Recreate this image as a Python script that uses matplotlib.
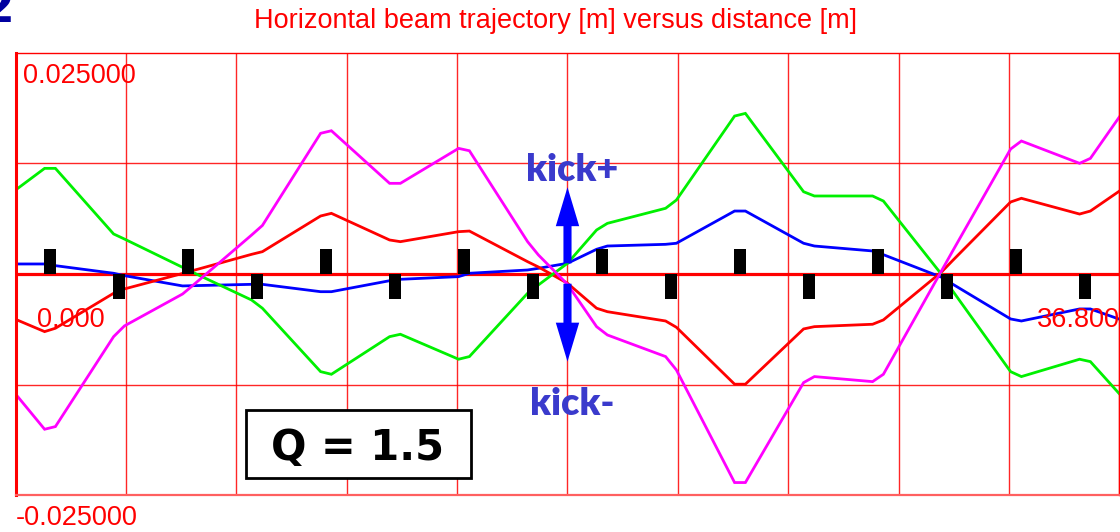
import matplotlib
matplotlib.use("Agg")
import matplotlib.pyplot as plt
from matplotlib.patches import Rectangle
import numpy as np

# ---- lattice: 16 thin quadrupoles, alternating focusing (+1) / defocusing (-1)
QUAD_CENTERS = [1.15, 3.45, 5.75, 8.05, 10.35, 12.65, 14.95, 17.25,
                19.55, 21.85, 24.15, 26.45, 28.75, 31.05, 33.35, 35.65]
QUAD_POLARITY = [1, -1, 1, -1, 1, -1, 1, -1, 1, -1, 1, -1, 1, -1, 1, -1]
QUAD_LENGTH = 0.37
KICK_S = 18.4
RING_LENGTH = 36.8

# ---- trajectory nodes [m]: start, quad entrance/exit edges, kicker, end
S_NODES = [0.0, 0.97, 1.33, 3.27, 3.63, 5.57, 5.93, 7.87, 8.23, 10.17, 10.53,
           12.47, 12.83, 14.77, 15.13, 17.07, 17.43, 18.4, 19.37, 19.73,
           21.67, 22.03, 23.97, 24.33, 26.27, 26.63, 28.57, 28.93, 30.87,
           31.23, 33.17, 33.53, 35.47, 35.83, 36.8]

# ---- horizontal positions [mm] for four turns
X_TURN1_BLUE = [1.13, 1.13, 0.94, 0.08, -0.19, -1.35, -1.32, -1.17, -1.17,
                -2.0, -2.0, -0.76, -0.60, -0.30, 0.08, 0.45, 0.64, 1.21,
                2.79, 3.16, 3.35, 3.47, 7.11, 7.11, 3.47, 3.16, 2.60, 2.18,
                -0.37, -1.13, -5.08, -5.31, -3.95, -3.95, -5.11]
X_TURN2_RED = [-5.12, -6.51, -6.13, -2.18, -1.69, 0.06, 0.40, 2.22, 2.52,
               6.55, 6.85, 3.84, 3.65, 4.78, 4.85, 1.39, 0.79, -1.05,
               -3.87, -4.26, -5.31, -6.02, -12.45, -12.45, -6.21, -5.95,
               -5.68, -5.19, 0.23, 1.49, 8.13, 8.55, 6.77, 7.11, 9.37]
X_TURN3_GREEN = [9.48, 11.93, 11.93, 4.52, 3.95, 0.75, 0.15, -2.94, -3.87,
                 -11.03, -11.33, -7.08, -6.81, -9.63, -9.33, -2.18, -1.24,
                 1.21, 4.97, 5.72, 7.42, 8.35, 17.84, 18.14, 9.29, 8.81,
                 8.81, 8.24, -0.05, -1.87, -11.03, -11.59, -9.63, -9.90,
                 -13.55]
X_TURN4_MAGENTA = [-13.55, -17.54, -17.24, -7.08, -5.87, -2.26, -1.24, 4.40,
                   5.48, 15.89, 16.18, 10.24, 10.24, 14.19, 13.92, 3.65, 2.15,
                   -1.17, -5.95, -6.89, -9.33, -10.84, -23.56, -23.56, -12.27,
                   -11.59, -12.16, -11.33, 0.37, 2.54, 14.11, 15.02, 12.50,
                   13.06, 17.76]

# ---- kicker arrows [mm]: start and tip
KICK_UP = (1.2, 9.8)
KICK_DOWN = (-1.1, -9.9)

Y_LIMIT = 0.025
TUNE_LABEL = "Q = 1.5"

RED = "#ff0000"
KICK_TEXT = "#3a3acc"

fig = plt.figure(figsize=(11.2, 5.32), dpi=100)
ax = fig.add_axes([0.01384, 0.069, 0.9857, 0.832])
ax.set_xlim(0, RING_LENGTH)
ax.set_ylim(-Y_LIMIT, Y_LIMIT)
ax.set_xticks([])
ax.set_yticks([])

# grid
for gx in np.linspace(0, RING_LENGTH, 11)[1:]:
    ax.axvline(gx, color=RED, lw=1.0, alpha=0.85, zorder=0.5)
for gy in np.linspace(-Y_LIMIT, Y_LIMIT, 5)[1:-1]:
    ax.axhline(gy, color=RED, lw=1.0, alpha=0.85, zorder=0.5)
ax.axhline(0, color=RED, lw=2.3, zorder=1)

for side in ("top", "right"):
    ax.spines[side].set_color(RED)
    ax.spines[side].set_linewidth(1.0)
ax.spines["bottom"].set_color("#ff6060")
ax.spines["bottom"].set_linewidth(1.6)
ax.spines["left"].set_color(RED)
ax.spines["left"].set_linewidth(2.2)

s = np.array(S_NODES)
for vals, col in [(X_TURN1_BLUE, "#0000ff"), (X_TURN2_RED, "#ff0000"),
                  (X_TURN3_GREEN, "#00f000"), (X_TURN4_MAGENTA, "#ff00ff")]:
    ax.plot(s, np.array(vals) * 1e-3, color=col, lw=2.0, zorder=2,
            solid_joinstyle="miter")

# quadrupoles
quad_h = 2.8e-3
ax.bar(QUAD_CENTERS, [p * quad_h for p in QUAD_POLARITY], width=QUAD_LENGTH,
       bottom=0, color="black", zorder=3)

# kicker arrows
for (y0, y1) in (KICK_UP, KICK_DOWN):
    ax.arrow(KICK_S, y0 * 1e-3, 0, (y1 - y0) * 1e-3, width=0.27,
             head_width=0.78, head_length=4.4e-3, length_includes_head=True,
             color="#0000ff", zorder=4, lw=0)

kick_font = dict(family="Lato", weight="heavy", size=27, color=KICK_TEXT)
ax.text(KICK_S + 0.15, 10.5e-3, "kick+", ha="center", va="baseline",
        zorder=5, **kick_font)
ax.text(KICK_S + 0.15, -15.9e-3, "kick-", ha="center", va="baseline",
        zorder=5, **kick_font)

# tune box
ax.add_patch(Rectangle((0.2088, 0.0391), 0.2038, 0.1536,
                       transform=ax.transAxes, fc="white", ec="black",
                       lw=2.0, zorder=5))
ax.text(0.3102, 0.0798, TUNE_LABEL, transform=ax.transAxes, ha="center",
        va="baseline", family="DejaVu Sans", weight="bold", size=30,
        color="black", zorder=6)

# scale labels
lab = dict(family="Liberation Sans", size=19.5, color=RED, va="baseline")
ax.text(0.0068, 0.9315, f"{Y_LIMIT:.6f}", transform=ax.transAxes,
        ha="left", **lab)
ax.text(0.0195, 0.3803, f"{0:.3f}", transform=ax.transAxes, ha="left", **lab)
ax.text(1.0, 0.3803, f"{RING_LENGTH:.3f}", transform=ax.transAxes,
        ha="right", **lab)
ax.text(0.0005, -0.0671, f"{-Y_LIMIT:.6f}", transform=ax.transAxes,
        ha="left", clip_on=False, **lab)

fig.text(555 / 1120, 0.9474,
         "Horizontal beam trajectory [m] versus distance [m]",
         ha="center", va="baseline", family="Liberation Sans", size=19.5,
         color=RED)

# slide number fragment in the corner
fig.text(14 / 1120, 1 - 22 / 532, "2", ha="right", va="baseline",
         family="DejaVu Sans", weight="bold", size=34, color="#0000a0")

fig.savefig("out.png", dpi=100)
